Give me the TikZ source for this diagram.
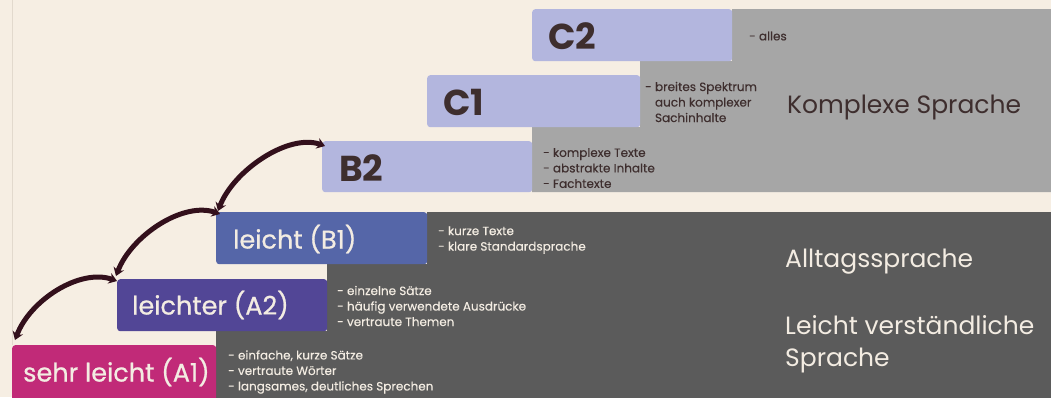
\documentclass[tikz,border=0pt]{standalone}
\usepackage{fontspec}
\setmainfont{Poppins}
\newfontfamily\medfont[FakeBold=0.7]{Poppins}
\newfontfamily\smallfont[FakeBold=0.25]{Poppins}
\usetikzlibrary{arrows.meta}
\definecolor{bg}{HTML}{F6EEE3}
\definecolor{guideclr}{HTML}{E2D9CD}
\definecolor{lgray}{HTML}{A6A6A6}
\definecolor{dgray}{HTML}{5B5B5B}
\definecolor{lav}{HTML}{B3B6DE}
\definecolor{blueB}{HTML}{5566A8}
\definecolor{purpA}{HTML}{524696}
\definecolor{magA}{HTML}{C12A78}
\definecolor{brown}{HTML}{3E2E2E}
\definecolor{creamtxt}{HTML}{F3ECE2}
\definecolor{arrclr}{HTML}{33101C}
\tikzset{
  lvlbox/.style={rectangle, rounded corners=3pt, anchor=north west, inner sep=0pt},
  biglbl/.style={anchor=west, inner sep=0pt, font=\fontsize{36}{40}\selectfont\bfseries, text=brown},
  midlbl/.style={anchor=west, inner sep=0pt, font=\fontsize{25.5}{30}\medfont, text=creamtxt},
  desc/.style={anchor=west, inner sep=0pt, align=left, font=\fontsize{12}{15.5}\smallfont},
  descdark/.style={desc, text=brown},
  desclight/.style={desc, text=creamtxt},
  zone/.style={anchor=west, inner sep=0pt, align=left, font=\fontsize{25}{32}\selectfont},
  jump/.style={draw=arrclr, line width=5pt, {Stealth[length=8pt,width=11pt]}-{Stealth[length=8pt,width=11pt]}},
  guide/.style={draw=guideclr, line width=1pt}
}
\begin{document}
\begin{tikzpicture}[x=1pt,y=-1pt]
\useasboundingbox (0,0) rectangle (1051,397);
\fill[bg] (0,0) rectangle (1051,397);
\coordinate (gtop) at (12,0);
% zones
\fill[lgray] (732,9) -- (1060,9) -- (1060,192) -- (532,192) -- (532,127) -- (640,127) -- (640,61) -- (732,61) -- cycle;
\fill[dgray] (427,212) -- (1060,212) -- (1060,400) -- (216,400) -- (216,331) -- (327,331) -- (327,264) -- (427,264) -- cycle;
% level boxes
\node[lvlbox, fill=lav, minimum width=200pt, minimum height=52pt] (c2) at (532,9) {};
\node[lvlbox, fill=lav, minimum width=213pt, minimum height=52pt] (c1) at (427,75) {};
\node[lvlbox, fill=lav, minimum width=210pt, minimum height=51pt] (b2) at (322,141) {};
\node[lvlbox, fill=blueB, minimum width=211pt, minimum height=52pt] (b1) at (216,212) {};
\node[lvlbox, fill=purpA, minimum width=210pt, minimum height=52pt] (a2) at (117,279) {};
\node[lvlbox, fill=magA, minimum width=204pt, minimum height=56pt] (a1) at (12,345) {};
\draw[guide] (gtop) -- (a1.north west);
% box labels
\node[biglbl] (c2t) at (548,36) {C2};
\node[biglbl] (c1t) at (443,102) {C1};
\node[biglbl] (b2t) at (339,168) {B2};
\node[midlbl] (b1t) at (233,239) {leicht (B1)};
\node[midlbl] (a2t) at (132,305) {leichter (A2)};
\node[midlbl] (a1t) at (23,372) {sehr leicht (A1)};
% descriptions
\node[descdark] (c2d) at (749,36) {- alles};
\node[descdark] (c1d) at (645,102) {- breites Spektrum\\\phantom{- }auch komplexer\\\phantom{- }Sachinhalte};
\node[descdark] (b2d) at (543,168) {- komplexe Texte\\- abstrakte Inhalte\\- Fachtexte};
\node[desclight] (b1d) at (438,240) {- kurze Texte\\- klare Standardsprache};
\node[desclight] (a2d) at (337,306) {- einzelne Sätze\\- häufig verwendete Ausdrücke\\- vertraute Themen};
\node[desclight] (a1d) at (228,372) {- einfache, kurze Sätze\\- vertraute Wörter\\- langsames, deutliches Sprechen};
% zone labels
\node[zone, text=brown] (zk) at (787,107) {Komplexe Sprache};
\node[zone, text=creamtxt] (za) at (785,262) {Alltagssprache};
\node[zone, text=creamtxt] (zl) at (785,344) {Leicht verständliche\\Sprache};
% arrows
\draw[jump] ([shift={(3,-5)}]a1.north west) .. controls +(15,-40) and +(-37,-13) .. ([shift={(0,2)}]a2.north west);
\draw[jump] ([shift={(-1,-3)}]a2.north west) .. controls +(15,-40) and +(-37,-13) .. ([shift={(4,2)}]b1.north west);
\draw[jump] ([shift={(2,-1)}]b1.north west) .. controls +(15,-40) and +(-37,-13) .. ([shift={(3,5)}]b2.north west);
\end{tikzpicture}
\end{document}
